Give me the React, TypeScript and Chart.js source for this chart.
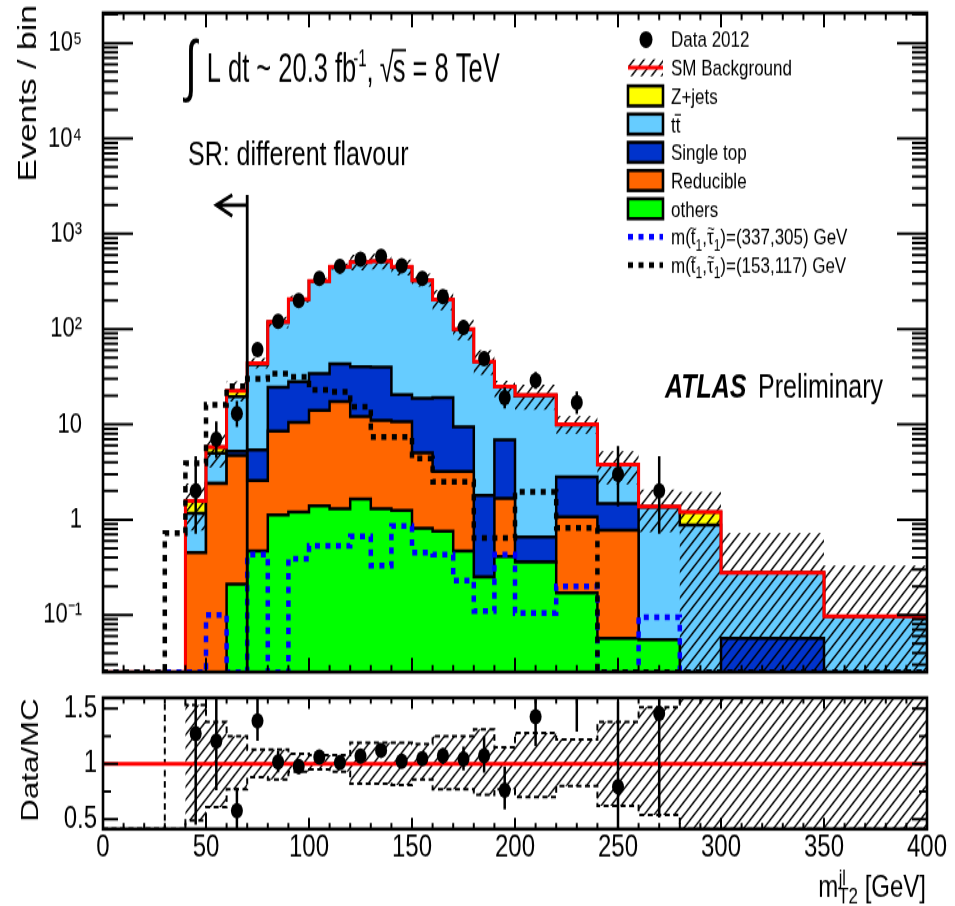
import React, { useEffect, useRef } from 'react';
import { Chart, registerables } from 'chart.js';

Chart.register(...registerables);

const FONT = "'Liberation Sans', Arial, Helvetica, sans-serif";

// ---------------- data ----------------
const binEdges = [0, 10, 20, 30, 40, 50, 60, 70, 80, 90, 100, 110, 120, 130, 140, 150, 160, 170, 180, 190, 200, 220, 240, 260, 280, 300, 350, 400];

const others = [0, 0, 0, 0, 0, 0, 0.21, 0.47, 1.12, 1.2, 1.4, 1.3, 1.65, 1.3, 1.25, 0.81, 0.76, 0.47, 0.25, 0.41, 0.36, 0.17, 0.057, 0.055, 0, 0, 0];
const reducible = [0, 0, 0, 0, 0.45, 2.4, 4.5, 2.1, 7.4, 9.3, 12.6, 16.0, 10.4, 9.7, 9.45, 4.2, 2.45, 2.75, 0, 1.26, 0, 0.9, 0.72, 0, 0, 0, 0];
const singleTop = [0, 0, 0, 0, 0, 0, 0.5, 2.8, 16.0, 17.5, 20, 25.7, 28, 29, 9.8, 13.8, 15.8, 6.2, 1.55, 5.2, 0.3, 1.73, 0.7, 0, 0, 0.057, 0];
const ttbar = [0, 0, 0, 0, 0.72, 2.6, 14.3, 37.1, 93.5, 176, 285, 406, 462, 474, 427, 304, 184, 89.6, 43.7, 18.0, 19.3, 7.1, 2.27, 1.3, 0.88, 0.221, 0.097];
const zjets = [0, 0, 0, 0, 0.4, 0.8, 3.0, 1.5, 1.0, 1.0, 1.0, 2.0, 3.0, 3.0, 2.5, 2.0, 1.2, 0.6, 0.2, 0.1, 0.4, 0.1, 0.03, 0.02, 0.32, 0, 0];

const signalA = [0, 0, 0, 0, 0, 0.1, 0, 0.43, 0, 0.39, 0.53, 0.53, 0.67, 0.33, 0.86, 0.45, 0.43, 0.23, 0.11, 0.43, 0.105, 0.2, 0, 0.095, 0, 0, 0]; // (337,305)
const signalB = [0, 0, 0, 0.72, 3.9, 16, 25, 30, 34, 31.6, 23, 22, 15.3, 7.4, 7.4, 4.4, 2.5, 2.5, 0.64, 0.64, 1.96, 0.82, 0, 0, 0, 0, 0]; // (153,117)

const dataCounts = [0, 0, 0, 0, 2, 7, 13, 61, 121, 200, 340, 456, 540, 580, 460, 340, 219, 104, 49, 19, 29, 17, 3, 2, 0, 0, 0];
const dataErrLow = [0, 0, 0, 0, 1.29, 2.58, 3.58, 7.8, 11.0, 14.1, 18.4, 21.4, 23.2, 24.1, 21.4, 18.4, 14.8, 10.2, 6.98, 4.3, 5.35, 4.08, 1.63, 1.29, 0, 0, 0];
const dataErrHigh = [0, 0, 0, 0, 2.64, 3.77, 4.67, 8.85, 12.0, 14.1, 18.4, 21.4, 23.2, 24.1, 21.4, 18.4, 14.8, 11.2, 8.04, 5.4, 6.44, 5.2, 2.92, 2.64, 0, 0, 0];

// relative SM uncertainty band (as seen in the Data/MC panel)
const bandUp = [0, 0, 0, 5, 1.53, 1.38, 1.25, 1.13, 1.13, 1.09, 1.08, 1.08, 1.19, 1.19, 1.19, 1.18, 1.25, 1.25, 1.31, 1.15, 1.28, 1.22, 1.38, 1.51, 1.63, 2.6, 3.4];
const bandDown = [0, 0, 0, 0, 0.49, 0.61, 0.77, 0.88, 0.86, 0.93, 0.95, 0.93, 0.82, 0.82, 0.81, 0.86, 0.77, 0.77, 0.72, 0.77, 0.70, 0.80, 0.62, 0.54, 0, 0, 0];

const xTickValues = [0, 50, 100, 150, 200, 250, 300, 350, 400];
const xTickLabels = ['0', '50', '100', '150', '200', '250', '300', '350', '400'];
const yTickValues = [0.1, 1, 10, 100, 1000, 10000, 100000];
const yTickLabels = ['10⁻¹', '1', '10', '10²', '10³', '10⁴', '10⁵'];
const ratioTickValues = [0.5, 1, 1.5];
const ratioTickLabels = ['0.5', '1', '1.5'];

const cutValue = 70;
const cutTop = 2545;
const arrowLevel = 2000;
const arrowTip = 55;

const COLORS = {
  zjets: '#ffff00',
  ttbar: '#66ccff',
  single: '#0033cc',
  reducible: '#ff6600',
  others: '#00ff00',
  red: '#ff0000',
  sigA: '#0000ff',
  sigB: '#000000',
};

// ---------------- layout ----------------
const W = 955;
const MAIN_CSS_H = 690;
const MAIN_H = 531;
const RATIO_CSS_H = 216;
const RATIO_H = 166;
const by = (d: number) => (d * MAIN_H) / MAIN_CSS_H;
const ry = (d: number) => (d * RATIO_H) / RATIO_CSS_H;
const Y_MIN = 0.0252;
const Y_MAX = 2.07e5;
const R_MIN = 0.412;
const R_MAX = 1.596;

type Seg = { t: string; size?: number; dy?: number; dx?: number; noAdv?: boolean; over?: boolean; style?: string };

function drawRich(ctx: CanvasRenderingContext2D, x: number, y: number, segs: Seg[], base: number, opts: { align?: string; ys?: number } = {}) {
  const ys = opts.ys || 1;
  const fontOf = (s: Seg) => `${s.style ? s.style + ' ' : ''}${s.size || base}px ${FONT}`;
  ctx.save();
  ctx.translate(x, y);
  ctx.scale(1, ys);
  ctx.textBaseline = 'alphabetic';
  ctx.textAlign = 'left';
  let w = 0;
  for (const s of segs) {
    ctx.font = fontOf(s);
    if (!s.noAdv) w += ctx.measureText(s.t).width + (s.dx || 0);
  }
  let cx = opts.align === 'right' ? -w : opts.align === 'center' ? -w / 2 : 0;
  for (const s of segs) {
    ctx.font = fontOf(s);
    const sw = ctx.measureText(s.t).width;
    const sx = cx + (s.dx || 0);
    ctx.fillText(s.t, sx, s.dy || 0);
    if (s.over) {
      const sz = s.size || base;
      ctx.save();
      ctx.lineWidth = Math.max(1.2, sz * 0.06);
      ctx.strokeStyle = '#000';
      ctx.beginPath();
      ctx.moveTo(sx - 1, (s.dy || 0) - sz * 0.78);
      ctx.lineTo(sx + sw + 0.5, (s.dy || 0) - sz * 0.78);
      ctx.stroke();
      ctx.restore();
    }
    if (!s.noAdv) cx += sw + (s.dx || 0);
  }
  ctx.restore();
}

function makeHatch(ctx: CanvasRenderingContext2D) {
  const c = document.createElement('canvas');
  c.width = 10;
  c.height = 10;
  const g = c.getContext('2d')!;
  g.strokeStyle = '#000';
  g.lineWidth = 1.4;
  g.beginPath();
  g.moveTo(-2, 12);
  g.lineTo(12, -2);
  g.moveTo(-2, 2);
  g.lineTo(2, -2);
  g.moveTo(8, 12);
  g.lineTo(12, 8);
  g.stroke();
  return ctx.createPattern(c, 'repeat') as CanvasPattern;
}

// histogram outline: one point per left bin edge plus the final right edge (step-before interpolation)
function steps(vals: number[], floor: number) {
  const pts = vals.map((v, i) => ({ x: binEdges[i], y: Math.max(v, floor) }));
  pts.push({ x: binEdges[vals.length], y: Math.max(vals[vals.length - 1], floor) });
  return pts;
}

function stepsClamp(vals: number[], lo: number, hi: number) {
  const c = (v: number) => Math.min(Math.max(v, lo), hi);
  const pts = vals.map((v, i) => ({ x: binEdges[i], y: c(v) }));
  pts.push({ x: binEdges[vals.length], y: c(vals[vals.length - 1]) });
  return pts;
}

const frameTicks = {
  id: 'frameTicks',
  afterDraw(chart: any, _a: any, o: any) {
    const { ctx, chartArea: a } = chart;
    const xs = chart.scales.x;
    const ys = chart.scales.y;
    ctx.save();
    ctx.strokeStyle = '#000';
    ctx.lineWidth = 2;
    ctx.beginPath();
    const xt = (v: number, len: number) => {
      const p = xs.getPixelForValue(v);
      ctx.moveTo(p, a.bottom);
      ctx.lineTo(p, a.bottom - len);
      ctx.moveTo(p, a.top);
      ctx.lineTo(p, a.top + len);
    };
    const yt = (v: number, len: number) => {
      const p = ys.getPixelForValue(v);
      if (p < a.top - 0.5 || p > a.bottom + 0.5) return;
      ctx.moveTo(a.left, p);
      ctx.lineTo(a.left + len, p);
      ctx.moveTo(a.right, p);
      ctx.lineTo(a.right - len, p);
    };
    o.xMajor.forEach((v: number) => xt(v, o.xMajLen));
    o.xMinor.forEach((v: number) => xt(v, o.xMinLen));
    o.yMajor.forEach((v: number) => yt(v, o.yMajLen));
    o.yMinor.forEach((v: number) => yt(v, o.yMinLen));
    ctx.stroke();
    ctx.lineWidth = 2.6;
    ctx.strokeRect(a.left, a.top, a.right - a.left, a.bottom - a.top);
    ctx.restore();
  },
};

const tildeSeg = (dx: number): Seg => ({ t: '~', size: 13, dy: -8, dx, noAdv: true });
const sigLabel = (mass: string): Seg[] => [
  { t: 'm(' },
  tildeSeg(-1.6),
  { t: 't' },
  { t: '1', size: 12, dy: 4.3 },
  { t: ',' },
  tildeSeg(0.3),
  { t: 'τ' },
  { t: '1', size: 12, dy: 4.3 },
  { t: `)=(${mass}) GeV` },
];

const mainDecor = {
  id: 'mainDecor',
  afterDatasetsDraw(chart: any) {
    const { ctx, chartArea } = chart;
    const xs = chart.scales.x;
    const ys = chart.scales.y;
    const px = xs.getPixelForValue(cutValue);
    const top = ys.getPixelForValue(cutTop);
    const ay = ys.getPixelForValue(arrowLevel);
    const tip = xs.getPixelForValue(arrowTip);
    ctx.save();
    ctx.strokeStyle = '#000';
    ctx.lineWidth = 2.8;
    ctx.beginPath();
    ctx.moveTo(px, chartArea.bottom);
    ctx.lineTo(px, top);
    ctx.moveTo(px, ay);
    ctx.lineTo(tip, ay);
    ctx.moveTo(tip + 16, ay - by(10));
    ctx.lineTo(tip, ay);
    ctx.lineTo(tip + 16, ay + by(11));
    ctx.stroke();
    ctx.restore();
  },
  afterDraw(chart: any, _a: any, o: any) {
    const ctx: CanvasRenderingContext2D = chart.ctx;
    ctx.save();
    ctx.fillStyle = '#000';
    // y title
    ctx.save();
    ctx.translate(36, by(5));
    ctx.rotate(-Math.PI / 2);
    ctx.font = `26px ${FONT}`;
    ctx.textAlign = 'right';
    ctx.textBaseline = 'alphabetic';
    ctx.fillText('Events / bin', 0, 0);
    ctx.restore();

    // luminosity text
    drawRich(ctx, 185, by(89), [{ t: '∫' }], 43, { ys: 1.22 });
    drawRich(
      ctx,
      206.7,
      by(81.7),
      [
        { t: 'L dt ~ 20.3 fb' },
        { t: '-1', size: 15, dy: -9.5, dx: -3 },
        { t: ', ' },
        { t: '√', dx: -1 },
        { t: 's', over: true, dx: -1 },
        { t: ' = 8 TeV' },
      ],
      25.5,
      { ys: 1.22 }
    );
    drawRich(ctx, 188, by(165), [{ t: 'SR: different flavour' }], 25);
    drawRich(ctx, 665, by(397), [{ t: 'ATLAS', style: 'italic bold' }], 25);
    drawRich(ctx, 758, by(397), [{ t: 'Preliminary' }], 25);

    // legend
    const x0 = 628;
    const x1 = 663;
    const tx = 671;
    const rowY = (i: number) => by(39.5 + 28.2 * i);
    const txt = (i: number, segs: Seg[]) => drawRich(ctx, tx, rowY(i) + 6.1, segs, 17);
    // data
    ctx.beginPath();
    ctx.ellipse(646, rowY(0), 6.5, 6.5, 0, 0, Math.PI * 2);
    ctx.fill();
    txt(0, [{ t: 'Data 2012' }]);
    // SM background
    ctx.fillStyle = o.hatch;
    ctx.fillRect(x0, rowY(1) - by(8.5), x1 - x0, by(17));
    ctx.fillStyle = '#000';
    ctx.strokeStyle = COLORS.red;
    ctx.lineWidth = 3;
    ctx.beginPath();
    ctx.moveTo(x0, rowY(1));
    ctx.lineTo(x1, rowY(1));
    ctx.stroke();
    txt(1, [{ t: 'SM Background' }]);
    const boxes: [string, Seg[]][] = [
      [COLORS.zjets, [{ t: 'Z+jets' }]],
      [COLORS.ttbar, [{ t: 't' }, { t: 't', over: true }]],
      [COLORS.single, [{ t: 'Single top' }]],
      [COLORS.reducible, [{ t: 'Reducible' }]],
      [COLORS.others, [{ t: 'others' }]],
    ];
    boxes.forEach(([col, segs], k) => {
      const i = k + 2;
      const cy = rowY(i);
      ctx.fillStyle = col;
      ctx.fillRect(x0, cy - by(10), x1 - x0, by(20));
      ctx.strokeStyle = '#000';
      ctx.lineWidth = 2.6;
      ctx.strokeRect(x0, cy - by(10), x1 - x0, by(20));
      ctx.fillStyle = '#000';
      txt(i, segs);
    });
    const sig: [string, string][] = [
      [COLORS.sigA, '337,305'],
      [COLORS.sigB, '153,117'],
    ];
    sig.forEach(([col, mass], k) => {
      const i = k + 7;
      const cy = rowY(i);
      ctx.save();
      ctx.strokeStyle = col;
      ctx.lineWidth = 4.5;
      ctx.setLineDash([5, 5.5]);
      ctx.beginPath();
      ctx.moveTo(x0, cy);
      ctx.lineTo(x1, cy);
      ctx.stroke();
      ctx.restore();
      ctx.fillStyle = '#000';
      txt(i, sigLabel(mass));
    });
    ctx.restore();
  },
};

const ratioDecor = {
  id: 'ratioDecor',
  afterDraw(chart: any) {
    const ctx: CanvasRenderingContext2D = chart.ctx;
    ctx.save();
    ctx.fillStyle = '#000';
    ctx.save();
    ctx.translate(38, ry(70));
    ctx.rotate(-Math.PI / 2);
    ctx.font = `24px ${FONT}`;
    ctx.textAlign = 'center';
    ctx.textBaseline = 'alphabetic';
    ctx.fillText('Data/MC', 0, 0);
    ctx.restore();
    drawRich(
      ctx,
      926,
      ry(207),
      [
        { t: 'm' },
        { t: 'jl', size: 16, dy: -9, noAdv: true, dx: 0.5 },
        { t: 'T2', size: 17, dy: 5 },
        { t: ' [GeV]' },
      ],
      24,
      { align: 'right' }
    );
    ctx.restore();
  },
};

export default function App() {
  const mainRef = useRef<HTMLCanvasElement>(null);
  const ratioRef = useRef<HTMLCanvasElement>(null);

  useEffect(() => {
    const mc = mainRef.current!;
    const rc = ratioRef.current!;
    const mctx = mc.getContext('2d')!;
    const rctx = rc.getContext('2d')!;
    const hatchMain = makeHatch(mctx);
    const hatchRatio = makeHatch(rctx);

    const nb = binEdges.length - 1;
    const cumOthers = others.slice();
    const cumReducible = cumOthers.map((v, i) => v + reducible[i]);
    const cumSingle = cumReducible.map((v, i) => v + singleTop[i]);
    const cumTtbar = cumSingle.map((v, i) => v + ttbar[i]);
    const total = cumTtbar.map((v, i) => v + zjets[i]);
    const centers = Array.from({ length: nb }, (_, i) => (binEdges[i] + binEdges[i + 1]) / 2);

    const TINY = 1e-4;
    const bandHi = total.map((t, i) => t * bandUp[i]);
    const bandLo = total.map((t, i) => t * bandDown[i]);

    const dataPts: { x: number; y: number }[] = [];
    const errPts: { x: number; y: number | null }[] = [];
    const rPts: { x: number; y: number }[] = [];
    const rErr: { x: number; y: number | null }[] = [];
    for (let i = 0; i < nb; i++) {
      const n = dataCounts[i];
      if (n <= 0) continue;
      const c = centers[i];
      dataPts.push({ x: c, y: n });
      errPts.push({ x: c, y: n - dataErrLow[i] }, { x: c, y: n + dataErrHigh[i] }, { x: c, y: null });
      const t = total[i];
      rPts.push({ x: c, y: n / t });
      rErr.push({ x: c, y: (n - dataErrLow[i]) / t }, { x: c, y: (n + dataErrHigh[i]) / t }, { x: c, y: null });
    }

    const stepBase: any = { stepped: 'before', pointRadius: 0, pointHoverRadius: 0, tension: 0, borderJoinStyle: 'miter' };
    const stackDs = (vals: number[], color: string) => ({
      ...stepBase,
      data: steps(vals, TINY),
      fill: 'start',
      backgroundColor: color,
      borderColor: '#000',
      borderWidth: 2.5,
    });

    const tickFont = { family: FONT, size: 24 };
    const logTickFont = { family: FONT, size: 22 };

    const xMinor: number[] = [];
    for (let v = 10; v < 400; v += 10) if (v % 50 !== 0) xMinor.push(v);
    const yMinor: number[] = [];
    for (let k = -2; k <= 5; k++) for (let m = 2; m <= 9; m++) yMinor.push(m * Math.pow(10, k));

    const main = new Chart(mc, {
      type: 'line',
      data: {
        datasets: [
          { data: dataPts, showLine: false, pointRadius: 6, pointHoverRadius: 6, pointBackgroundColor: '#000', pointBorderWidth: 0 } as any,
          { data: errPts, borderColor: '#000', borderWidth: 2.5, pointRadius: 0, spanGaps: false } as any,
          { ...stepBase, data: steps(signalB, Y_MIN), borderColor: COLORS.sigB, borderWidth: 4.5, borderDash: [5, 5.5], fill: false },
          { ...stepBase, data: steps(signalA, Y_MIN), borderColor: COLORS.sigA, borderWidth: 4.5, borderDash: [5, 5.5], fill: false },
          { ...stepBase, data: steps(total, Y_MIN), borderColor: COLORS.red, borderWidth: 3, fill: false },
          { ...stepBase, data: steps(bandHi, TINY), borderWidth: 0, borderColor: 'rgba(0,0,0,0)', fill: '+1', backgroundColor: hatchMain },
          { ...stepBase, data: steps(bandLo, TINY), borderWidth: 0, borderColor: 'rgba(0,0,0,0)', fill: false },
          stackDs(cumOthers, COLORS.others),
          stackDs(cumReducible, COLORS.reducible),
          stackDs(cumSingle, COLORS.single),
          stackDs(cumTtbar, COLORS.ttbar),
          stackDs(total, COLORS.zjets),
        ],
      },
      options: {
        responsive: false,
        maintainAspectRatio: false,
        animation: false,
        devicePixelRatio: 1,
        events: [],
        layout: { padding: { left: 0, right: 28, top: by(13), bottom: MAIN_H - by(672) } },
        plugins: {
          legend: { display: false },
          tooltip: { enabled: false },
          frameTicks: {
            xMajor: xTickValues,
            xMinor,
            xMajLen: 11,
            xMinLen: 5.5,
            yMajor: yTickValues,
            yMinor,
            yMajLen: 30,
            yMinLen: 15,
          },
          mainDecor: { hatch: hatchMain },
        } as any,
        scales: {
          x: { type: 'linear', min: 0, max: 400, display: false },
          y: {
            type: 'logarithmic',
            min: Y_MIN,
            max: Y_MAX,
            afterBuildTicks: (axis: any) => {
              axis.ticks = yTickValues.map((v) => ({ value: v }));
            },
            afterFit: (s: any) => {
              s.width = 103;
              s.paddingTop = 0;
              s.paddingBottom = 0;
            },
            ticks: {
              font: logTickFont,
              color: '#000',
              padding: 21,
              autoSkip: false,
              callback: (_v: any, i: number) => yTickLabels[i],
            },
            grid: { display: false, drawTicks: false },
            border: { display: false },
          } as any,
        },
      },
      plugins: [frameTicks, mainDecor] as any,
    });

    const fillUp = bandUp.map((v, i) => (total[i] > 0 ? v : bandDown[i]));
    const ratio = new Chart(rc, {
      type: 'line',
      data: {
        datasets: [
          { data: rPts, showLine: false, pointRadius: 6, pointHoverRadius: 6, pointBackgroundColor: '#000', pointBorderWidth: 0, clip: 0 } as any,
          { data: rErr, borderColor: '#000', borderWidth: 2.5, pointRadius: 0, spanGaps: false, clip: 0 } as any,
          { data: [{ x: 0, y: 1 }, { x: 400, y: 1 }], borderColor: COLORS.red, borderWidth: 3, pointRadius: 0, fill: false, clip: 0 } as any,
          { ...stepBase, data: stepsClamp(bandUp, R_MIN, R_MAX), borderColor: '#000', borderWidth: 2, borderDash: [5, 3.5], fill: false, clip: 0 },
          { ...stepBase, data: stepsClamp(bandDown, R_MIN, R_MAX), borderColor: '#000', borderWidth: 2, borderDash: [5, 3.5], fill: false, clip: 0 },
          { ...stepBase, data: stepsClamp(fillUp, R_MIN, R_MAX), borderWidth: 0, borderColor: 'rgba(0,0,0,0)', fill: '+1', backgroundColor: hatchRatio, clip: 0 },
          { ...stepBase, data: stepsClamp(bandDown, R_MIN, R_MAX), borderWidth: 0, borderColor: 'rgba(0,0,0,0)', fill: false, clip: 0 },
        ],
      },
      options: {
        responsive: false,
        maintainAspectRatio: false,
        animation: false,
        devicePixelRatio: 1,
        events: [],
        layout: { padding: { left: 0, right: 28, top: ry(4), bottom: 0 } },
        plugins: {
          legend: { display: false },
          tooltip: { enabled: false },
          frameTicks: {
            xMajor: xTickValues,
            xMinor,
            xMajLen: 8.5,
            xMinLen: 4.6,
            yMajor: ratioTickValues,
            yMinor: [0.75, 1.25],
            yMajLen: 15,
            yMinLen: 8,
          },
        } as any,
        scales: {
          x: {
            type: 'linear',
            min: 0,
            max: 400,
            afterBuildTicks: (axis: any) => {
              axis.ticks = xTickValues.map((v) => ({ value: v }));
            },
            afterFit: (s: any) => {
              s.height = RATIO_H - ry(139);
              s.paddingLeft = 0;
              s.paddingRight = 0;
              s.paddingTop = 0;
              s.paddingBottom = 0;
            },
            ticks: {
              font: tickFont,
              color: '#000',
              padding: 0.5,
              autoSkip: false,
              maxRotation: 0,
              minRotation: 0,
              callback: (_v: any, i: number) => xTickLabels[i],
            },
            grid: { display: false, drawTicks: false },
            border: { display: false },
          } as any,
          y: {
            type: 'linear',
            min: R_MIN,
            max: R_MAX,
            afterBuildTicks: (axis: any) => {
              axis.ticks = ratioTickValues.map((v) => ({ value: v }));
            },
            afterFit: (s: any) => {
              s.width = 103;
              s.paddingTop = 0;
              s.paddingBottom = 0;
            },
            ticks: {
              font: tickFont,
              color: '#000',
              padding: 6,
              autoSkip: false,
              callback: (_v: any, i: number) => ratioTickLabels[i],
            },
            grid: { display: false, drawTicks: false },
            border: { display: false },
          } as any,
        },
      },
      plugins: [frameTicks, ratioDecor] as any,
    });

    return () => {
      main.destroy();
      ratio.destroy();
    };
  }, []);

  return (
    <div style={{ position: 'fixed', left: 0, top: 0, width: W, height: 906, background: '#fff', overflow: 'hidden' }}>
      <canvas
        ref={mainRef}
        width={W}
        height={MAIN_H}
        style={{ position: 'absolute', left: 0, top: 0, width: `${W}px`, height: `${MAIN_CSS_H}px` }}
      />
      <canvas
        ref={ratioRef}
        width={W}
        height={RATIO_H}
        style={{ position: 'absolute', left: 0, top: MAIN_CSS_H, width: `${W}px`, height: `${RATIO_CSS_H}px` }}
      />
    </div>
  );
}
